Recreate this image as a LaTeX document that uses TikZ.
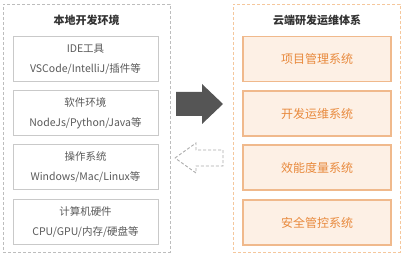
\documentclass[tikz,border=0pt]{standalone}
\usepackage{fontspec}
\setmainfont{Noto Sans CJK SC}
\definecolor{frameGray}{HTML}{BDBDBD}
\definecolor{boxGray}{HTML}{C9C9C9}
\definecolor{txtGray}{HTML}{5A5A5A}
\definecolor{titleGray}{HTML}{333333}
\definecolor{frameOrange}{HTML}{F5C79C}
\definecolor{boxOrange}{HTML}{F0B98C}
\definecolor{fillOrange}{HTML}{FDF0E5}
\definecolor{txtOrange}{HTML}{E8893C}
\definecolor{arrowDark}{HTML}{555555}
\definecolor{arrowLight}{HTML}{ABABAB}
\begin{document}
\begin{tikzpicture}[x=1pt,y=-1pt,
  container/.style={draw, line width=0.9pt, dash pattern=on 3pt off 2pt, minimum width=167pt, minimum height=248pt, inner sep=0pt},
  localbox/.style={draw=boxGray, line width=1pt, fill=white, minimum width=145pt, minimum height=45pt, align=center, text=txtGray, font=\fontsize{10.5}{20}\selectfont, inner sep=0pt},
  cloudbox/.style={draw=boxOrange, line width=1.4pt, fill=fillOrange, minimum width=148pt, minimum height=45pt, align=center, text=txtOrange, font=\fontsize{12}{14}\selectfont, inner sep=0pt},
  titletext/.style={text=titleGray, font=\fontsize{11}{13}\selectfont\bfseries, inner sep=0pt}
]
\useasboundingbox (0,0) rectangle (402,256);
\node[container, draw=frameGray] (L) at (86.5,128) {};
\node[container, draw=frameOrange] (R) at (316.5,128.5) {};
\node[titletext] (Lt) at (86.5,20) {本地开发环境};
\node[titletext] (Rt) at (317,20) {云端研发运维体系};
\node[localbox] (l1) at (85.5,59) {IDE工具\\VSCode/IntelliJ/插件等};
\node[localbox] (l2) at (85.5,113.5) {软件环境\\NodeJs/Python/Java等};
\node[localbox] (l3) at (85.5,167.5) {操作系统\\Windows/Mac/Linux等};
\node[localbox] (l4) at (85.5,222) {计算机硬件\\CPU/GPU/内存/硬盘等};
\node[cloudbox] (r1) at (317,59) {项目管理系统};
\node[cloudbox] (r2) at (317,113.5) {开发运维系统};
\node[cloudbox] (r3) at (317,167.5) {效能度量系统};
\node[cloudbox] (r4) at (317,222.5) {安全管控系统};
\fill[arrowDark] (176,92) -- (202,92) -- (202,84) -- (223,104) -- (202,124) -- (202,116) -- (176,116) -- cycle;
\draw[arrowLight, line width=0.9pt, dash pattern=on 3pt off 2pt, line join=miter] (175,158) -- (196,143) -- (196,150) -- (223,150) -- (223,166) -- (196,166) -- (196,173) -- cycle;
\end{tikzpicture}
\end{document}
